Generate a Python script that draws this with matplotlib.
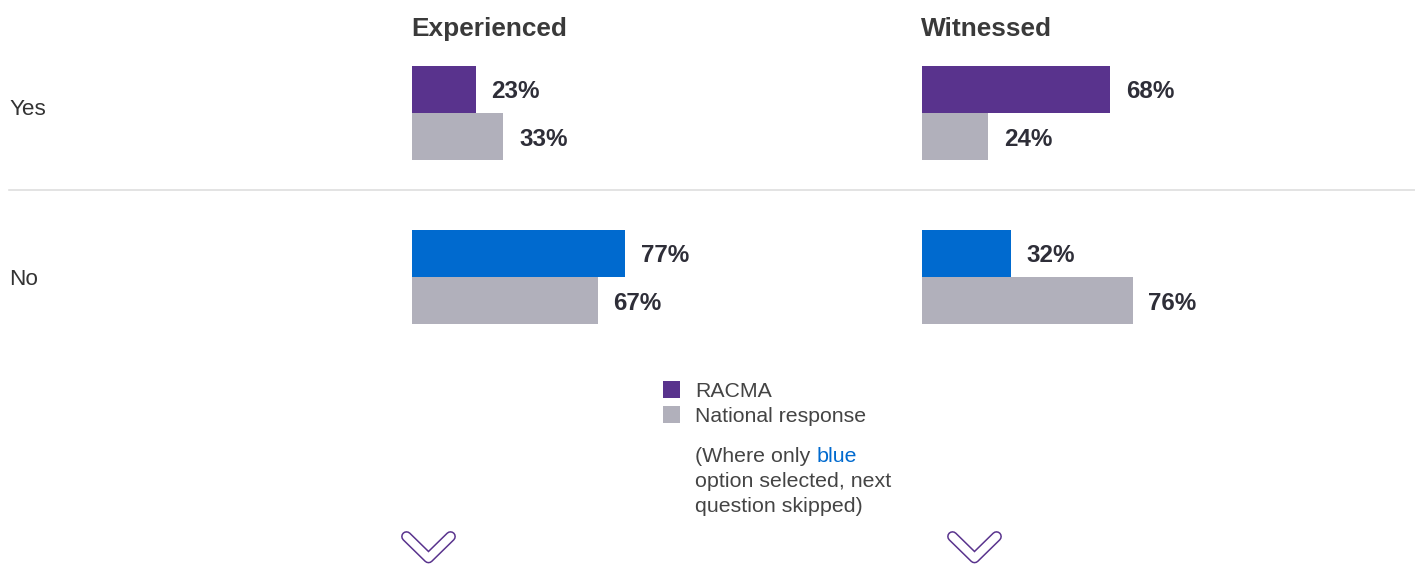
import matplotlib
matplotlib.use("Agg")
import matplotlib.pyplot as plt
from matplotlib import transforms
from matplotlib.lines import Line2D
from matplotlib.patches import Rectangle

# ---------------- data ----------------
categories = ["Yes", "No"]
panels = ["Experienced", "Witnessed"]
racma_experienced = [23, 77]
national_experienced = [33, 67]
racma_witnessed = [68, 32]
national_witnessed = [24, 76]
legend_labels = ["RACMA", "National response"]
note_line1 = ["(Where only ", "blue"]
note_rest = ["option selected, next", "question skipped)"]

# ---------------- style ----------------
plt.rcParams["font.family"] = ["Liberation Sans", "DejaVu Sans"]
PURPLE = "#59338D"
BLUE = "#006ACF"
GRAY = "#B1B0BB"
TXT = "#2E2E38"
HEAD = "#3A3A3A"
LEG = "#444444"

W, H = 1415, 565
fig = plt.figure(figsize=(W / 100, H / 100), dpi=100)


def fx(x):
    return x / W


def fy(y):
    return 1 - y / H


def add_axes_px(left, right, top, bottom):
    return fig.add_axes([fx(left), fy(bottom), fx(right) - fx(left), fy(top) - fy(bottom)])


bar_h = 0.2866
panel_data = [
    (racma_experienced, national_experienced, 412),
    (racma_witnessed, national_witnessed, 922),
]

axes = []
for (top_vals, nat_vals, left), title in zip(panel_data, panels):
    ax = add_axes_px(left, left + 277, 31, 359)
    ax.set_xlim(0, 100)
    ax.set_ylim(1.5, -0.5)
    ax.axis("off")
    ypos = list(range(len(categories)))
    top_colors = [PURPLE, BLUE]
    ax.barh([y - bar_h / 2 for y in ypos], top_vals, height=bar_h,
            color=top_colors, linewidth=0)
    ax.barh([y + bar_h / 2 for y in ypos], nat_vals, height=bar_h,
            color=GRAY, linewidth=0)
    for y, v in zip(ypos, top_vals):
        ax.annotate(f"{v}%", xy=(v, y - bar_h / 2), xytext=(11.2, 0),
                    textcoords="offset points", va="center_baseline", ha="left",
                    fontsize=17.4, fontweight="bold", color=TXT)
    for y, v in zip(ypos, nat_vals):
        ax.annotate(f"{v}%", xy=(v, y + bar_h / 2), xytext=(11.2, 0),
                    textcoords="offset points", va="center_baseline", ha="left",
                    fontsize=17.4, fontweight="bold", color=TXT)
    fig.text(fx(left - 1), fy(35.7), title, fontsize=18.9, fontweight="bold",
             color=HEAD, va="baseline", ha="left")
    axes.append(ax)

# row labels (small per-row vertical nudge in pixels, layout only)
ax0 = axes[0]
row_label_nudge_pt = [4.0, 0.0]
blend = transforms.blended_transform_factory(fig.transFigure, ax0.transData)
for i, c in enumerate(categories):
    ax0.annotate(c, xy=(fx(9), i), xycoords=blend,
                 xytext=(0, row_label_nudge_pt[i]), textcoords="offset points",
                 fontsize=16.2, color="#333333",
                 va="center_baseline", ha="left", annotation_clip=False)

# divider
fig.add_artist(Line2D([fx(9), 1.0], [fy(189.5), fy(189.5)],
                      color="#DEDEDE", linewidth=1.2, transform=fig.transFigure))

# legend
leg_colors = [PURPLE, GRAY]
leg_ys = [389.5, 414.5]
for lab, col, yc in zip(legend_labels, leg_colors, leg_ys):
    fig.add_artist(Rectangle((fx(663), fy(yc + 8.5)), 17 / W, 17 / H,
                             color=col, transform=fig.transFigure, linewidth=0))
    fig.text(fx(695), fy(yc), lab, fontsize=15.3, color=LEG,
             va="center_baseline", ha="left")

renderer = fig.canvas.get_renderer()
t1 = fig.text(fx(695), fy(454), note_line1[0], fontsize=15.4, color=LEG,
              va="center_baseline", ha="left")
bb = t1.get_window_extent(renderer=renderer)
fig.text(bb.x1 / (fig.dpi * fig.get_figwidth()), fy(454), note_line1[1],
         fontsize=15.4, color=BLUE, va="center_baseline", ha="left")
for k, line in enumerate(note_rest):
    fig.text(fx(695), fy(454 + 25.5 * (k + 1)), line, fontsize=15.4, color=LEG,
             va="center_baseline", ha="left")

# chevrons
for cx in [428.5, 974.5]:
    xs = [fx(cx - 22), fx(cx), fx(cx + 22)]
    ys = [fy(536.5), fy(558), fy(536.5)]
    fig.add_artist(Line2D(xs, ys, color=PURPLE, linewidth=7.8,
                          solid_capstyle="round", solid_joinstyle="round",
                          transform=fig.transFigure))
    fig.add_artist(Line2D(xs, ys, color="white", linewidth=5.6,
                          solid_capstyle="round", solid_joinstyle="round",
                          transform=fig.transFigure))

fig.savefig("out.png", dpi=100)
